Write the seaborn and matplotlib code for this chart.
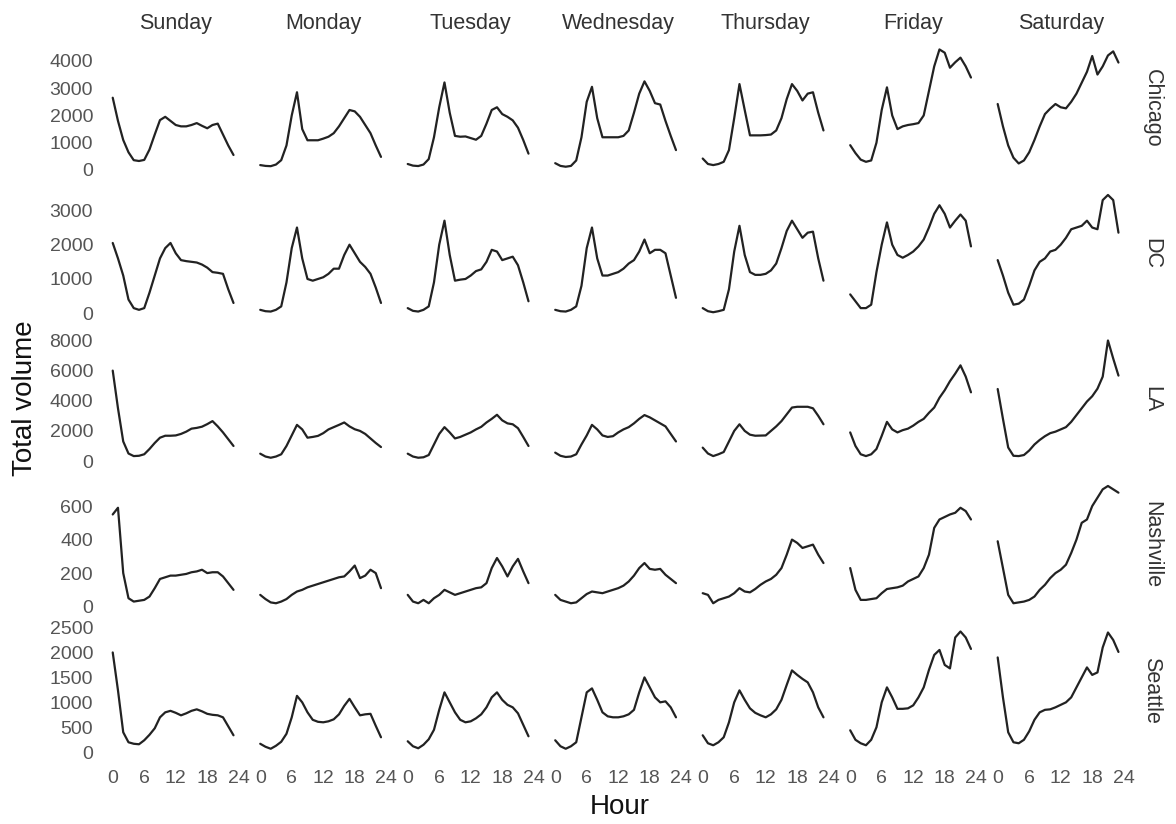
import matplotlib
matplotlib.use("Agg")
import matplotlib.pyplot as plt
import pandas as pd
import seaborn as sns

# ---------------------------------------------------------------------------
# Hourly ride volume by city and weekday
# ---------------------------------------------------------------------------
hours = list(range(24))
days = ["Sunday", "Monday", "Tuesday", "Wednesday", "Thursday", "Friday", "Saturday"]
cities = ["Chicago", "DC", "LA", "Nashville", "Seattle"]

chicago = [
    [2650, 1800, 1100, 650, 360, 330, 370, 750, 1300, 1830, 1950, 1800, 1650, 1600, 1600, 1650, 1720, 1620, 1530, 1650, 1700, 1300, 900, 550],
    [180, 150, 140, 200, 360, 900, 2000, 2850, 1500, 1090, 1090, 1090, 1150, 1220, 1350, 1600, 1900, 2200, 2150, 1950, 1650, 1350, 900, 480],
    [220, 160, 145, 200, 400, 1200, 2300, 3210, 2100, 1250, 1220, 1230, 1170, 1110, 1250, 1700, 2200, 2300, 2050, 1950, 1820, 1550, 1100, 600],
    [250, 150, 120, 150, 350, 1200, 2500, 3050, 1900, 1200, 1200, 1200, 1200, 1250, 1450, 2100, 2800, 3250, 2900, 2450, 2400, 1800, 1250, 730],
    [420, 220, 180, 220, 300, 730, 1900, 3150, 2200, 1270, 1270, 1270, 1280, 1300, 1450, 1900, 2600, 3150, 2900, 2550, 2800, 2850, 2100, 1450],
    [910, 620, 380, 300, 350, 1000, 2200, 3030, 2000, 1500, 1600, 1650, 1680, 1720, 2000, 2900, 3800, 4420, 4300, 3750, 3950, 4120, 3800, 3390],
    [2420, 1600, 900, 450, 240, 350, 650, 1100, 1600, 2050, 2250, 2420, 2300, 2260, 2500, 2800, 3200, 3600, 4180, 3500, 3800, 4200, 4350, 3940],
]

dc = [
    [2050, 1600, 1100, 400, 150, 100, 150, 600, 1100, 1600, 1900, 2050, 1750, 1550, 1520, 1500, 1480, 1420, 1330, 1200, 1180, 1150, 700, 300],
    [100, 60, 50, 100, 200, 900, 1900, 2500, 1600, 1000, 950, 1000, 1050, 1150, 1300, 1300, 1700, 2000, 1750, 1500, 1350, 1150, 750, 300],
    [150, 70, 50, 100, 200, 900, 2000, 2700, 1700, 950, 980, 1000, 1100, 1230, 1280, 1500, 1850, 1800, 1550, 1600, 1650, 1400, 900, 350],
    [100, 60, 50, 100, 200, 800, 1900, 2500, 1600, 1100, 1100, 1150, 1200, 1300, 1450, 1550, 1800, 2150, 1750, 1850, 1850, 1750, 1100, 450],
    [150, 60, 30, 60, 100, 700, 1800, 2550, 1700, 1200, 1120, 1120, 1150, 1250, 1450, 1900, 2400, 2700, 2450, 2200, 2350, 2380, 1600, 950],
    [550, 350, 150, 150, 250, 1200, 2000, 2650, 2000, 1700, 1620, 1700, 1800, 1950, 2150, 2500, 2900, 3150, 2900, 2500, 2700, 2880, 2700, 1950],
    [1550, 1100, 600, 250, 280, 400, 800, 1250, 1500, 1600, 1800, 1850, 2000, 2200, 2450, 2500, 2550, 2700, 2500, 2450, 3300, 3450, 3300, 2350],
]

la = [
    [6000, 3500, 1300, 500, 330, 350, 450, 800, 1200, 1550, 1680, 1680, 1700, 1800, 1950, 2150, 2200, 2280, 2450, 2650, 2300, 1900, 1450, 1000],
    [490, 300, 220, 300, 450, 1000, 1700, 2400, 2100, 1550, 1600, 1670, 1850, 2100, 2250, 2400, 2560, 2300, 2110, 2000, 1800, 1500, 1200, 930],
    [490, 300, 220, 250, 400, 1100, 1800, 2250, 1900, 1500, 1600, 1750, 1900, 2100, 2270, 2560, 2800, 3070, 2700, 2500, 2440, 2180, 1600, 1000],
    [560, 350, 270, 300, 450, 1100, 1700, 2400, 2100, 1700, 1600, 1650, 1900, 2100, 2250, 2500, 2800, 3050, 2900, 2700, 2500, 2300, 1800, 1300],
    [890, 500, 330, 450, 600, 1300, 2000, 2440, 2000, 1750, 1680, 1690, 1700, 2000, 2300, 2650, 3100, 3550, 3600, 3600, 3600, 3500, 3000, 2440],
    [1900, 1000, 450, 330, 450, 800, 1670, 2600, 2100, 1900, 2050, 2150, 2350, 2600, 2800, 3200, 3550, 4200, 4700, 5300, 5800, 6350, 5600, 4560],
    [4780, 2800, 900, 350, 330, 400, 700, 1100, 1400, 1650, 1850, 1950, 2100, 2250, 2600, 3050, 3500, 3950, 4300, 4800, 5600, 8000, 6800, 5670],
]

nashville = [
    [550, 590, 200, 50, 30, 35, 40, 60, 110, 165, 175, 185, 185, 190, 195, 205, 210, 220, 200, 205, 205, 180, 140, 100],
    [70, 45, 25, 20, 30, 45, 70, 90, 100, 115, 125, 135, 145, 155, 165, 175, 180, 210, 245, 170, 185, 220, 200, 110],
    [70, 30, 20, 40, 20, 50, 70, 100, 85, 70, 80, 90, 100, 110, 115, 140, 230, 290, 240, 180, 240, 285, 210, 140],
    [70, 40, 30, 20, 25, 50, 75, 90, 85, 80, 90, 100, 110, 125, 150, 185, 230, 260, 225, 220, 225, 190, 165, 140],
    [80, 70, 20, 40, 50, 60, 80, 110, 90, 85, 105, 130, 150, 165, 190, 230, 310, 400, 380, 350, 360, 370, 310, 260],
    [230, 100, 40, 40, 45, 50, 80, 105, 110, 115, 125, 150, 165, 180, 230, 310, 470, 520, 535, 550, 560, 590, 570, 520],
    [390, 230, 70, 20, 25, 30, 40, 60, 100, 130, 170, 200, 220, 250, 320, 400, 500, 520, 600, 650, 700, 720, 700, 680],
]

seattle = [
    [2000, 1240, 400, 200, 170, 160, 240, 350, 480, 700, 800, 830, 790, 740, 780, 830, 860, 820, 770, 750, 740, 700, 520, 340],
    [170, 110, 70, 130, 210, 370, 700, 1130, 1000, 800, 650, 610, 600, 620, 660, 760, 930, 1070, 900, 740, 760, 770, 530, 300],
    [220, 120, 80, 150, 260, 450, 850, 1200, 1000, 800, 650, 600, 620, 680, 760, 900, 1100, 1200, 1050, 950, 900, 780, 550, 320],
    [240, 120, 70, 120, 200, 700, 1200, 1280, 1050, 800, 720, 700, 700, 720, 760, 850, 1200, 1500, 1300, 1100, 1000, 1020, 900, 700],
    [340, 180, 140, 200, 300, 600, 1000, 1240, 1050, 880, 790, 740, 700, 760, 860, 1050, 1350, 1640, 1550, 1470, 1400, 1200, 900, 700],
    [440, 250, 180, 140, 250, 500, 1000, 1300, 1100, 870, 870, 880, 940, 1100, 1300, 1650, 1950, 2050, 1750, 1680, 2300, 2420, 2300, 2070],
    [1900, 1100, 400, 200, 180, 250, 420, 650, 800, 850, 860, 900, 950, 1000, 1100, 1300, 1500, 1700, 1550, 1600, 2100, 2400, 2250, 2010],
]

hour_ticks = [0, 6, 12, 18, 24]
chicago_ticks = [0, 1000, 2000, 3000, 4000]
dc_ticks = [0, 1000, 2000, 3000]
la_ticks = [0, 2000, 4000, 6000, 8000]
nashville_ticks = [0, 200, 400, 600]
seattle_ticks = [0, 500, 1000, 1500, 2000, 2500]

# ---------------------------------------------------------------------------
# Long-form table for seaborn
# ---------------------------------------------------------------------------
city_series = [chicago, dc, la, nashville, seattle]
city_ticks = [chicago_ticks, dc_ticks, la_ticks, nashville_ticks, seattle_ticks]

records = []
for city, series in zip(cities, city_series):
    for day, values in zip(days, series):
        for h, v in zip(hours, values):
            records.append({"city": city, "day": day, "Hour": h, "Total volume": v})
df = pd.DataFrame(records)

# ---------------------------------------------------------------------------
# Style
# ---------------------------------------------------------------------------
sns.set_style("white")
plt.rcParams["font.family"] = ["Liberation Sans", "DejaVu Sans"]

g = sns.relplot(
    data=df, x="Hour", y="Total volume",
    row="city", col="day", row_order=cities, col_order=days,
    kind="line", color="#222222", linewidth=1.6, errorbar=None,
    height=1.3, aspect=1.07,
    facet_kws=dict(sharex=True, sharey="row", despine=False),
)

fig = g.figure
fig.set_size_inches(11.76, 8.24)
fig.subplots_adjust(left=0.0905, right=0.9609, top=0.9471, bottom=0.0842,
                    wspace=0.064, hspace=0.128)

tick_color = "#555555"
strip_color = "#333333"
n_rows, n_cols = g.axes.shape

for i in range(n_rows):
    for j in range(n_cols):
        ax = g.axes[i, j]
        for s in ax.spines.values():
            s.set_visible(False)
        ax.set_title("")
        ax.set_xlabel("")
        ax.set_ylabel("")
        ax.grid(False)
        ax.tick_params(axis="x", length=0, pad=11, labelsize=14,
                       labelcolor=tick_color, labelbottom=(i == n_rows - 1))
        ax.tick_params(axis="y", length=0, pad=9.6, labelsize=14,
                       labelcolor=tick_color, labelleft=(j == 0))
    g.axes[i, 0].set_yticks(city_ticks[i])

g.axes[0, 0].set_xlim(-1.2, 25.2)
g.axes[0, 0].set_xticks(hour_ticks)

# Column strips (weekday) on top
for j, day in enumerate(days):
    g.axes[0, j].set_title(day, fontsize=15.5, color=strip_color, pad=10.3)

# Row strips (city) on the right
for i, city in enumerate(cities):
    ax = g.axes[i, n_cols - 1]
    ax.text(1 + 22 / 138.6, 0.5, city, transform=ax.transAxes, rotation=270,
            ha="center", va="center", fontsize=15.5, color=strip_color)

# Shared axis titles
fig.text(0.0213, 0.517, "Total volume", rotation=90, ha="center", va="center",
         fontsize=20, color="#111111")
fig.text(0.527, 0.0206, "Hour", ha="center", va="center",
         fontsize=20, color="#111111")

fig.savefig("out.png", dpi=100, facecolor="white")
